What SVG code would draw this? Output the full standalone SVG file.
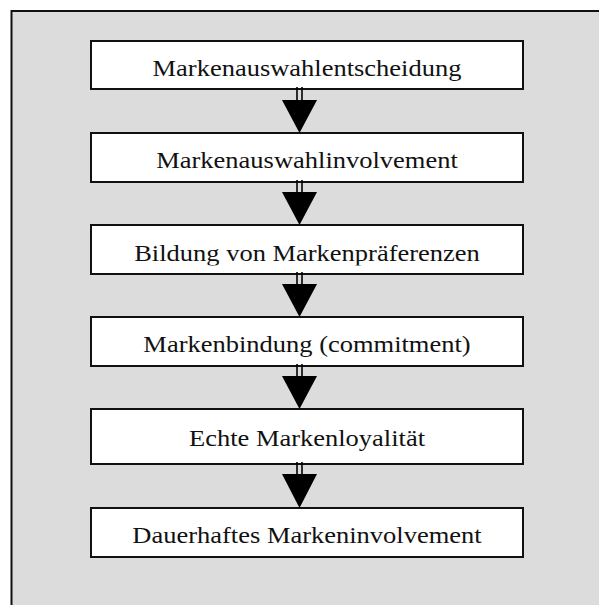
<svg xmlns="http://www.w3.org/2000/svg" width="599" height="605" viewBox="0 0 599 605">
<defs>
<style>
.frame{fill:#dcdcdc;stroke:#111;stroke-width:2}
.box{fill:#fff;stroke:#111;stroke-width:2}
.lbl{font-family:"Liberation Serif","Times New Roman",serif;font-size:24px;fill:#111;text-anchor:middle}
.shaft{stroke:#000;stroke-width:1.6}
.head{fill:#000}
</style>
<clipPath id="c3"><rect x="91" y="225" width="432" height="40.5"/></clipPath>
</defs>
<rect class="frame" x="11.5" y="11" width="620" height="620"/>
<g id="n1"><rect class="box" x="91" y="41" width="432" height="48"/><text class="lbl" transform="translate(307,76) scale(1.104,1)">Markenauswahlentscheidung</text></g>
<g id="n2"><rect class="box" x="91" y="133" width="432" height="49"/><text class="lbl" transform="translate(307,168) scale(1.104,1)">Markenauswahlinvolvement</text></g>
<g id="n3"><rect class="box" x="91" y="225" width="432" height="49"/><g clip-path="url(#c3)"><text class="lbl" transform="translate(307,261) scale(1.104,1)">Bildung von Markenpräferenzen</text></g></g>
<g id="n4"><rect class="box" x="91" y="317" width="432" height="49"/><text class="lbl" transform="translate(307,352) scale(1.104,1)">Markenbindung (commitment)</text></g>
<g id="n5"><rect class="box" x="91" y="409" width="432" height="55"/><text class="lbl" transform="translate(307,446) scale(1.104,1)">Echte Markenloyalität</text></g>
<g id="n6"><rect class="box" x="91" y="508" width="432" height="49"/><text class="lbl" transform="translate(307,543) scale(1.104,1)">Dauerhaftes Markeninvolvement</text></g>
<g id="connectors">
<g transform="translate(0,0)"><line class="shaft" x1="297" y1="87" x2="297" y2="100"/><line class="shaft" x1="302" y1="87" x2="302" y2="100"/><polygon class="head" points="282,100 317,100 299.5,133"/></g>
<g transform="translate(0,92)"><line class="shaft" x1="297" y1="88" x2="297" y2="100"/><line class="shaft" x1="302" y1="88" x2="302" y2="100"/><polygon class="head" points="282,100 317,100 299.5,133"/></g>
<g transform="translate(0,184)"><line class="shaft" x1="297" y1="88" x2="297" y2="100"/><line class="shaft" x1="302" y1="88" x2="302" y2="100"/><polygon class="head" points="282,100 317,100 299.5,133"/></g>
<g transform="translate(0,276)"><line class="shaft" x1="297" y1="88" x2="297" y2="100"/><line class="shaft" x1="302" y1="88" x2="302" y2="100"/><polygon class="head" points="282,100 317,100 299.5,133"/></g>
<g transform="translate(0,374)"><line class="shaft" x1="297" y1="88" x2="297" y2="100"/><line class="shaft" x1="302" y1="88" x2="302" y2="100"/><polygon class="head" points="282,100 317,100 299.5,134"/></g>
</g>
</svg>
